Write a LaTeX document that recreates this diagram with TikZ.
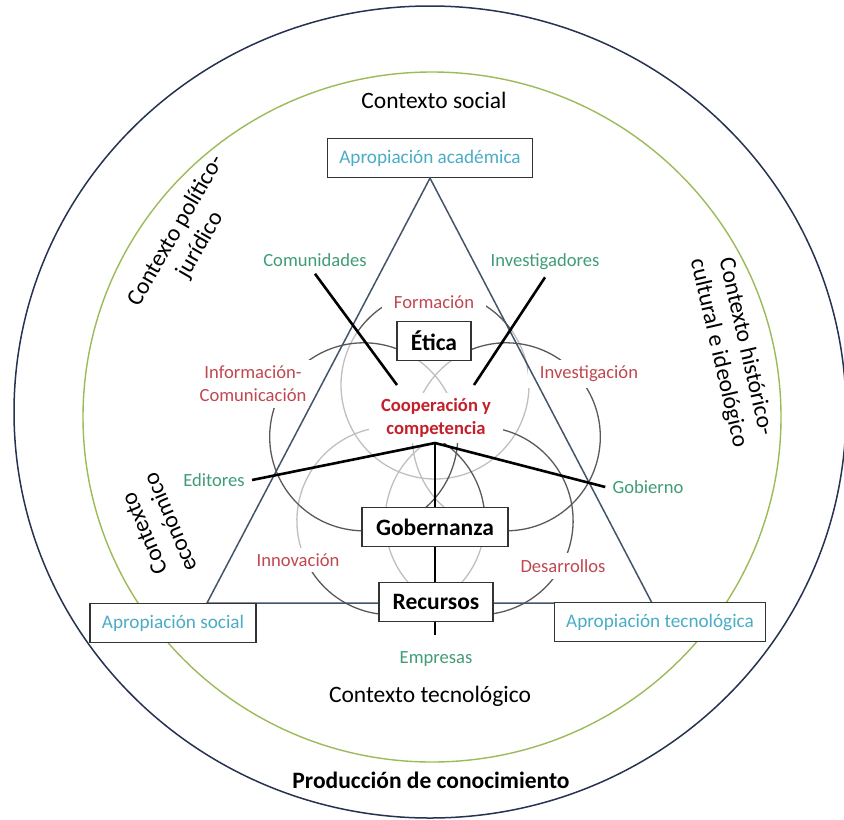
\documentclass[tikz,border=0pt]{standalone}
\usepackage{fontspec}
\setmainfont{Carlito}
\usetikzlibrary{positioning}
\definecolor{labgreen}{RGB}{64,156,118}
\definecolor{labred}{RGB}{192,72,80}
\definecolor{coopred}{RGB}{196,32,44}
\definecolor{apcyan}{RGB}{75,172,198}
\definecolor{ringgreen}{RGB}{155,187,89}
\definecolor{ringblue}{RGB}{38,50,82}
\definecolor{trislate}{RGB}{68,84,106}
\definecolor{arcdark}{RGB}{89,89,89}
\definecolor{arclight}{RGB}{191,191,191}
\newcommand{\ctxfont}{\fontsize{11.75}{14}\selectfont}
\newcommand{\labfont}{\fontsize{9.3}{11.5}\selectfont}

\begin{document}
\begin{tikzpicture}[x=0.5pt, y=-0.5pt, semithick, node distance=11pt,
  ctx/.style={font=\ctxfont, align=center},
  lab/.style={font=\labfont, align=center},
  redlab/.style={lab, text=labred, fill=white, inner xsep=6pt, inner ysep=3pt},
  greenlab/.style={lab, text=labgreen},
  apbox/.style={draw=black!80, fill=white, line width=0.65pt, font=\fontsize{9.6}{11}\selectfont,
    text=apcyan, minimum height=19.5pt, inner sep=0pt},
  keybox/.style={draw=black!80, fill=white, line width=0.65pt, font=\ctxfont\bfseries,
    minimum height=19.5pt, inner sep=0pt},
  petal/.style={line width=0.65pt, draw=arcdark},
  petalback/.style={line width=0.65pt, draw=arclight},
  connector/.style={line width=1.3pt, black}]
  \useasboundingbox (0,0) rectangle (844,819);

  % rings
  \draw[ringblue, line width=0.75pt] (430,412) ellipse [x radius=416, y radius=406];
  \draw[ringgreen, line width=0.7pt] (432,417) ellipse [x radius=349, y radius=345];

  % five petals around (435,460)
  \coordinate (pT) at (435,385);
  \coordinate (pUR) at (506.3,436.8);
  \coordinate (pVR) at (479.1,520.7);
  \coordinate (pVL) at (390.9,520.7);
  \coordinate (pUL) at (363.7,436.8);
  \draw[petal] ([shift={(215:94)}]pT) arc[start angle=215, end angle=325, radius=94];
  \draw[petalback] ([shift={(325:94)}]pT) arc[start angle=325, end angle=575, radius=94];
  \draw[petal] ([shift={(234:94)}]pUR) arc[start angle=234, end angle=490, radius=94];
  \draw[petalback] ([shift={(130:94)}]pUR) arc[start angle=130, end angle=234, radius=94];
  \draw[petal] ([shift={(-80:94)}]pVR) arc[start angle=-80, end angle=100, radius=94];
  \draw[petalback] ([shift={(100:94)}]pVR) arc[start angle=100, end angle=280, radius=94];
  \draw[petal] ([shift={(-60:94)}]pVL) arc[start angle=-60, end angle=15, radius=94];
  \draw[petalback] ([shift={(15:94)}]pVL) arc[start angle=15, end angle=50, radius=94];
  \draw[petal] ([shift={(50:94)}]pVL) arc[start angle=50, end angle=158, radius=94];
  \draw[petalback] ([shift={(158:94)}]pVL) arc[start angle=158, end angle=300, radius=94];
  \draw[petal] ([shift={(-25:94)}]pUL) arc[start angle=-25, end angle=306, radius=94];
  \draw[petalback] ([shift={(306:94)}]pUL) arc[start angle=306, end angle=335, radius=94];

  % red labels
  \node[redlab] (formacion) at (434,302) {Formación};
  \node[redlab] (investigacion) at (589,374) {Investigación};
  \node[redlab] (desarrollos) at (563,566) {Desarrollos};
  \node[redlab] (innovacion) at (298,560) {Innovación};
  \node[redlab] (infocom) at (253,384) {Información-\\Comunicación};
  \node[redlab, font=\labfont\bfseries, text=coopred] (coop) at (436,418) {Cooperación y\\competencia};

  % triangle
  \node[apbox, minimum width=102.5pt] (ap_academica) at (430,158) {Apropiación académica};
  \coordinate (tri_left) at (207,603);
  \coordinate (tri_right) at (652,603);
  \draw[trislate, line width=0.75pt] (ap_academica.south) -- (tri_left) -- (tri_right) -- cycle;

  % actors
  \node[greenlab] (comunidades) at (315,260) {Comunidades};
  \node[greenlab] (investigadores) at (545,262) {Investigadores};
  \node[greenlab] (editores) at (214,480) {Editores};
  \node[greenlab] (gobierno) at (648,487) {Gobierno};

  \coordinate (hub) at (435,443);
  \coordinate (com_end) at (397,385);
  \coordinate (inv_end) at (474,385);
  \coordinate (rec_end) at (435,635);
  \draw[connector] (comunidades.south) -- (com_end);
  \draw[connector] (investigadores.south) -- (inv_end);
  \draw[connector] (editores.east) -- (hub) -- (gobierno.west);
  \draw[connector] (hub) -- (rec_end);

  % boxes
  \node[keybox, minimum width=37pt] (etica) at (434,341) {Ética};
  \node[keybox, minimum width=73pt] (gobernanza) at (435,527) {Gobernanza};
  \node[keybox, minimum width=57pt] (recursos) at (436,602) {Recursos};
  \node[apbox, minimum width=83pt] (ap_social) at (173,623) {Apropiación social};
  \node[apbox, minimum width=105.5pt] (ap_tecnologica) at (660,622) {Apropiación tecnológica};
  \node[greenlab, below=of recursos] (empresas) {Empresas};

  % contexts
  \node[ctx] (ctx_social) at (434,100) {Contexto social};
  \node[ctx] (ctx_tecnologico) at (430,696) {Contexto tecnológico};
  \node[ctx, font=\ctxfont\bfseries] (produccion) at (431,780) {Producción de conocimiento};
  \node[ctx, rotate=60] (ctx_politico) at (188,238) {Contexto político-\\jurídico};
  \node[ctx, rotate=113] (ctx_economico) at (157,528) {Contexto\\económico};
  \node[ctx, rotate=-77] (ctx_historico) at (732,350) {Contexto histórico-\\cultural e ideológico};
\end{tikzpicture}
\end{document}
